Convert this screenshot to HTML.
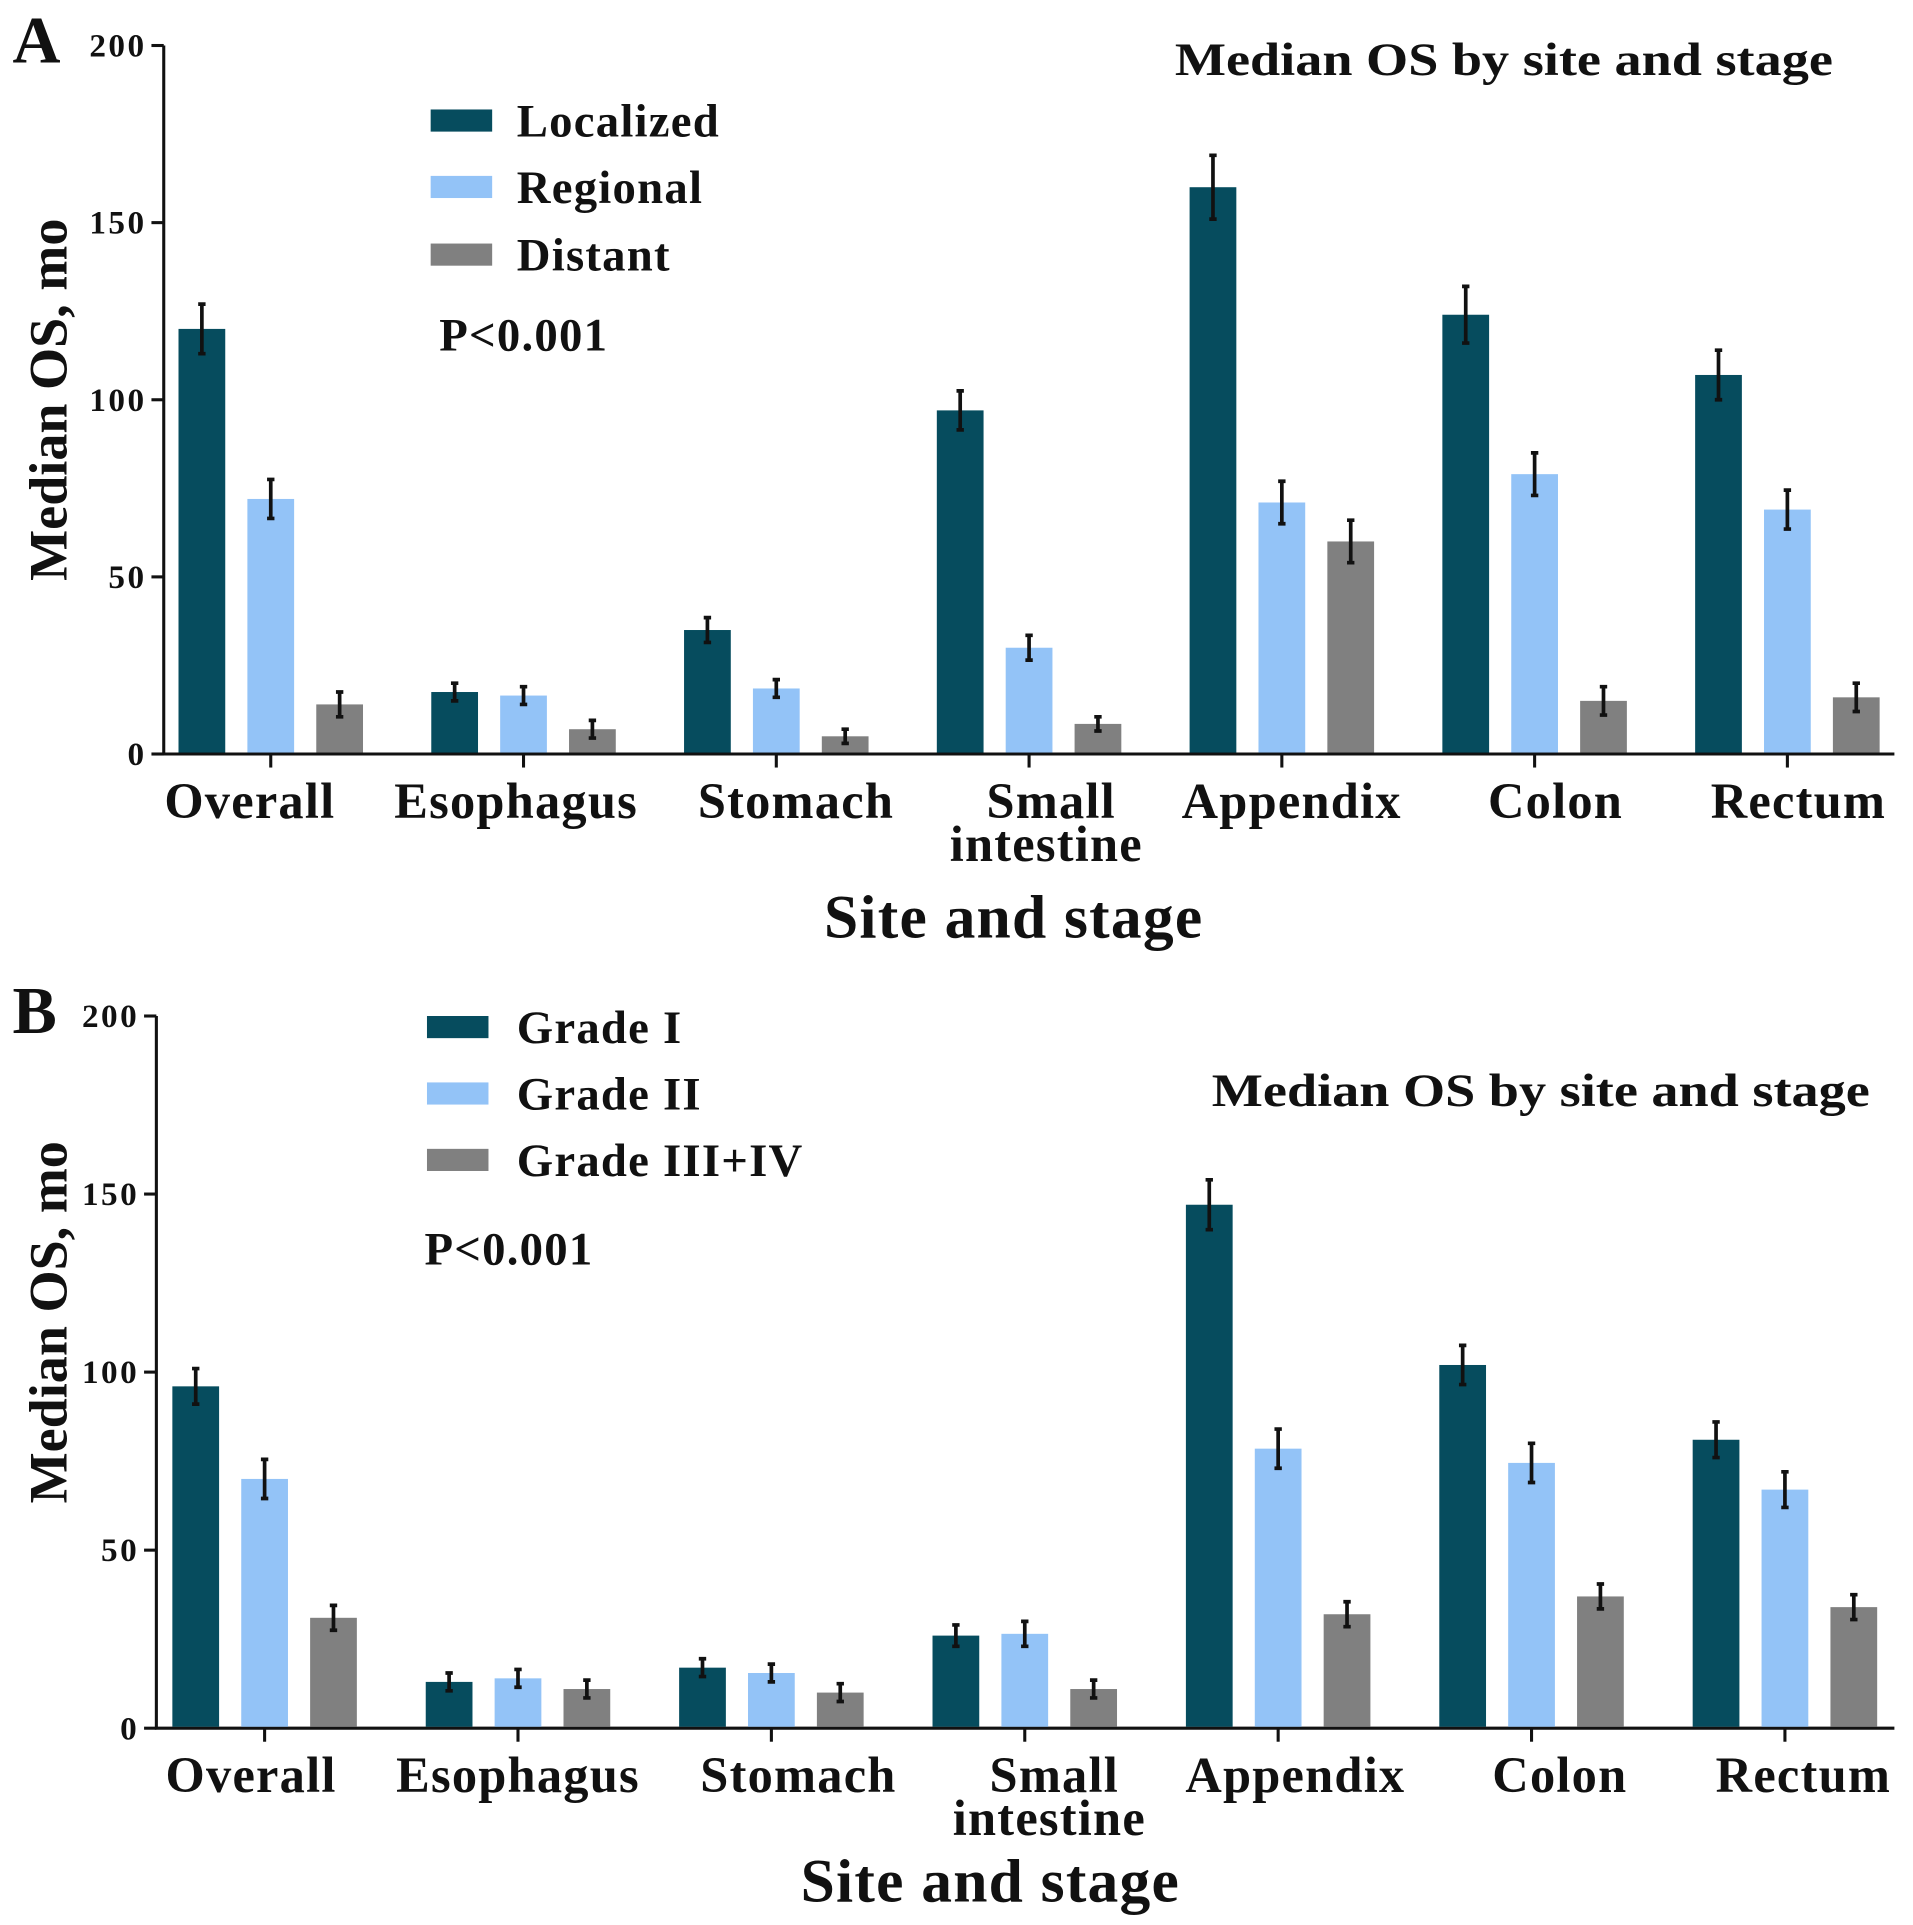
<!DOCTYPE html>
<html><head><meta charset="utf-8">
<style>
html,body{margin:0;padding:0;background:#fff;}
svg{display:block;}
text{font-family:"Liberation Serif",serif;font-weight:bold;fill:#111;}
</style></head>
<body>
<svg id="chart" width="1913" height="1925" viewBox="0 0 1555 1565" xmlns="http://www.w3.org/2000/svg"></svg>
<script>
const categories = ["Overall","Esophagus","Stomach","Small intestine","Appendix","Colon","Rectum"];
const yTicks = [0,50,100,150,200];
const seriesNamesA = ["Localized","Regional","Distant"];
const localizedVals = [120,17.5,35,97,160,124,107];
const regionalVals = [72,16.5,18.5,30,71,79,69];
const distantVals = [14,7,5,8.5,60,15,16];
const localizedErr = [7,2.5,3.5,5.5,9,8,7];
const regionalErr = [5.5,2.5,2.5,3.5,6,6,5.5];
const distantErr = [3.5,2.5,2,2,6,4,4];
const seriesNamesB = ["Grade I","Grade II","Grade III+IV"];
const grade1Vals = [96,13,17,26,147,102,81];
const grade2Vals = [70,14,15.5,26.5,78.5,74.5,67];
const grade3Vals = [31,11,10,11,32,37,34];
const grade1Err = [5,2.5,2.5,3,7,5.5,5];
const grade2Err = [5.5,2.5,2.5,3.5,5.5,5.5,5];
const grade3Err = [3.5,2.5,2.5,2.5,3.5,3.5,3.5];
const colors = ["#064c5e","#93c3f7","#808080"];
const labelShift = [-17,-6,16,14,8,17,9];

const NS="http://www.w3.org/2000/svg";
const svg=document.getElementById('chart');
function mk(tag,attrs,parent){const e=document.createElementNS(NS,tag);for(const k in attrs)e.setAttribute(k,attrs[k]);(parent||svg).appendChild(e);return e;}
function txt(s,attrs,parent){const t=mk('text',attrs,parent);t.textContent=s;return t;}

function panel(cfg){
  const g=mk('g',{});
  
  
  const y=v=>cfg.y0-(v/200)*(cfg.y0-cfg.y200);
  const cx=i=>cfg.c0+i*cfg.sp;
  const ax=mk('path',{d:`M${cfg.ax} ${cfg.y200} V${cfg.y0} H1540`,stroke:'#111','stroke-width':2.5,fill:'none'},g);
  
  
  yTicks.forEach(t=>{
    mk('line',{x1:cfg.ax-10,x2:cfg.ax,y1:y(t),y2:y(t),stroke:'#111','stroke-width':2.5},g);
    const l=txt(String(t),{x:cfg.ax-14,y:y(t)+9,'font-size':27,'letter-spacing':2,'text-anchor':'end'},g);
    
    
  });
  const vals=cfg.vals, errs=cfg.errs;
  categories.forEach((c,i)=>{
    mk('line',{x1:cx(i),x2:cx(i),y1:cfg.y0,y2:cfg.y0+11,stroke:'#111','stroke-width':2.5},g);
    const parts=c==="Small intestine"?["Small","intestine"]:[c];
    parts.forEach((p,k)=>{
      const l=txt(p,{x:cx(i)+labelShift[i]+cfg.ldx+(k===0&&parts.length>1?4:0),y:cfg.y0+52+k*35,'font-size':41,'letter-spacing':1,'text-anchor':'middle'},g);
      
      
    });
    vals.forEach((s,j)=>{
      const bx=cx(i)+(j-1)*56-19;
      const r=mk('rect',{x:bx,y:y(s[i]),width:38,height:cfg.y0-y(s[i])-1.2,fill:colors[j]},g);
      
      
      const ex=bx+19, top=y(s[i]+errs[j][i]), bot=y(s[i]-errs[j][i]);
      const eb=mk('path',{d:`M${ex} ${top} V${bot} M${ex-3} ${top} H${ex+3} M${ex-3} ${bot} H${ex+3}`,stroke:'#111','stroke-width':3,fill:'none'},g);
      
      
    });
  });
  const pl=txt(cfg.letter,{x:10,y:cfg.y200+14,'font-size':54},g);
  
  
  const yt=txt("Median OS, mo",{x:0,y:0,'font-size':44,'text-anchor':'middle',transform:`translate(54 ${cfg.ytY}) rotate(-90)`},g);
  
  
  const xt=txt("Site and stage",{x:cfg.xtX,y:cfg.xtY,'font-size':50,'letter-spacing':1,'text-anchor':'middle'},g);
  
  
  const tt=txt("Median OS by site and stage",{x:cfg.tX,y:cfg.tY,'font-size':38,textLength:535,lengthAdjust:'spacingAndGlyphs'},g);
  
  
  cfg.names.forEach((n,j)=>{
    const sw=mk('rect',{x:cfg.lx,y:cfg.ly[j]-9,width:50,height:18,fill:colors[j]},g);
    
    
    const lt=txt(n,{x:420,y:cfg.ly[j]+13,'font-size':38,'letter-spacing':1},g);
    
    
  });
  const p=txt("P<0.001",{x:cfg.px,y:cfg.py,'font-size':38,'letter-spacing':1},g);
  
  
}
panel({id:'panel-a',letter:'A',ax:133,y0:613,y200:37,c0:220,sp:205.5,ldx:0,vals:[localizedVals,regionalVals,distantVals],errs:[localizedErr,regionalErr,distantErr],names:seriesNamesA,lx:350,ly:[98,152,207],px:357,py:285,tX:955,tY:61,ytY:325,xtX:824,xtY:762});
panel({id:'panel-b',letter:'B',ax:127,y0:1405,y200:826,c0:215,sp:206,ldx:6,vals:[grade1Vals,grade2Vals,grade3Vals],errs:[grade1Err,grade2Err,grade3Err],names:seriesNamesB,lx:347,ly:[835,889,943],px:345,py:1028,tX:985,tY:899,ytY:1075,xtX:805,xtY:1546});
</script>
</body></html>
